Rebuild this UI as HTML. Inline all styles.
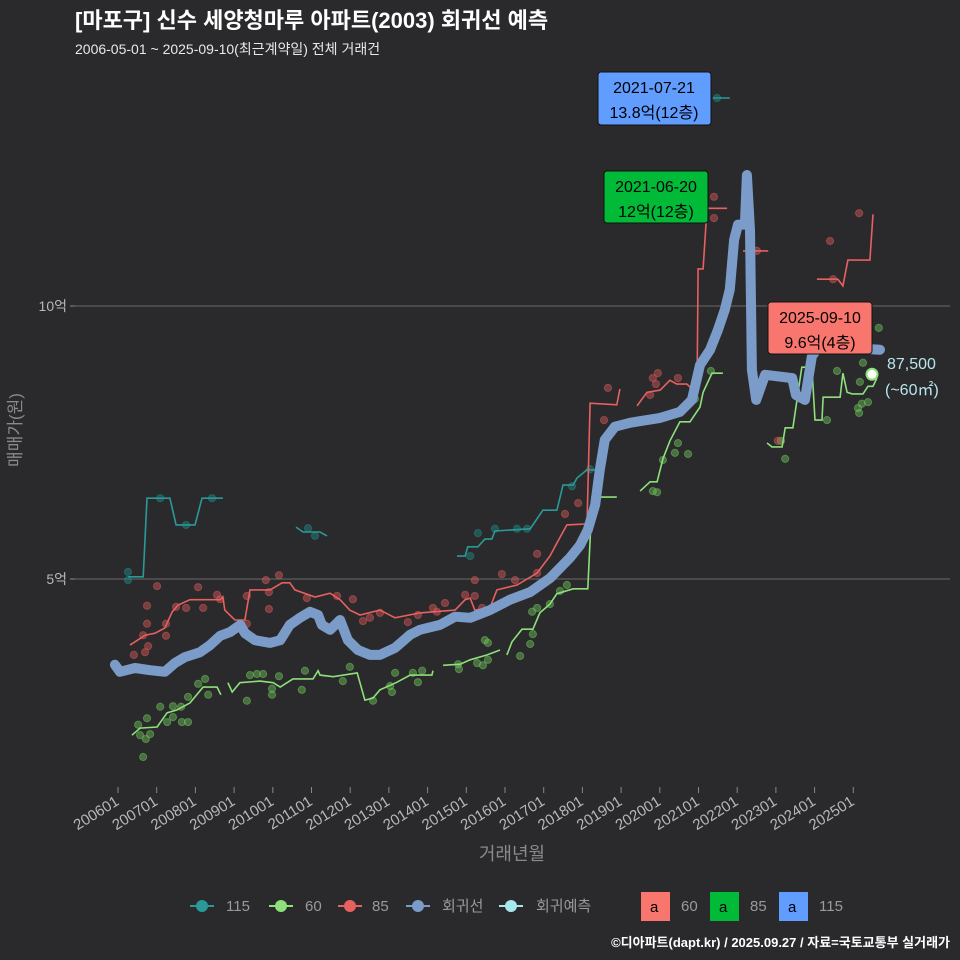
<!DOCTYPE html>
<html><head><meta charset="utf-8"><style>
html,body{margin:0;padding:0;background:#2a2a2c;overflow:hidden;}
svg{display:block;font-family:"Liberation Sans","Noto Sans CJK KR",sans-serif;}
</style></head><body>
<svg id="chart" width="960" height="960" viewBox="0 0 960 960">
<rect width="960" height="960" fill="#2a2a2c"/>
<text x="75" y="28" fill="#ffffff" font-size="22" font-weight="bold">[마포구] 신수 세양청마루 아파트(2003) 회귀선 예측</text>
<text x="75" y="54" fill="#e8e8e8" font-size="14">2006-05-01 ~ 2025-09-10(최근계약일) 전체 거래건</text>
<g id="grid"></g>
<g id="yticks"></g>
<g id="xticks"></g>
<g id="dots"></g>
<g id="lines"></g>
<g id="reg"></g>
<g id="ann"></g>
<text transform="translate(21,430) rotate(-90)" text-anchor="middle" fill="#8a8a8a" font-size="17">매매가(원)</text>
<text x="512" y="860" text-anchor="middle" fill="#8a8a8a" font-size="18">거래년월</text>
<g font-size="15" fill="#9a9a9a">
 <g><line x1="190" y1="906" x2="214" y2="906" stroke="#2a9a98" stroke-width="2"/><circle cx="202" cy="906" r="6" fill="#2a9a98"/><text x="226" y="911">115</text></g>
 <g><line x1="269" y1="906" x2="293" y2="906" stroke="#8de07a" stroke-width="2"/><circle cx="281" cy="906" r="6" fill="#8de07a"/><text x="305" y="911">60</text></g>
 <g><line x1="338" y1="906" x2="362" y2="906" stroke="#e8605f" stroke-width="2"/><circle cx="350" cy="906" r="6" fill="#e8605f"/><text x="372" y="911">85</text></g>
 <g><line x1="406" y1="906" x2="430" y2="906" stroke="#7b9cc9" stroke-width="2"/><circle cx="418" cy="906" r="6" fill="#7b9cc9"/><text x="442" y="911">회귀선</text></g>
 <g><line x1="499" y1="906" x2="523" y2="906" stroke="#a8e8ec" stroke-width="2"/><circle cx="511" cy="906" r="6" fill="#a8e8ec"/><text x="536" y="911">회귀예측</text></g>
 <g><rect x="641" y="892" width="29" height="29" fill="#f8766d"/><text x="650" y="912" fill="#000">a</text><text x="681" y="911">60</text></g>
 <g><rect x="710" y="892" width="29" height="29" fill="#00ba38"/><text x="719" y="912" fill="#000">a</text><text x="750" y="911">85</text></g>
 <g><rect x="779" y="892" width="29" height="29" fill="#619cff"/><text x="788" y="912" fill="#000">a</text><text x="819" y="911">115</text></g>
</g>
<text x="950" y="947" text-anchor="end" fill="#ffffff" font-size="13" font-weight="bold">©디아파트(dapt.kr) / 2025.09.27 / 자료=국토교통부 실거래가</text>
<g>
 <g><rect x="598" y="72" width="113" height="53" rx="3" fill="#619cff" stroke="#111" stroke-width="1"/><text x="654" y="93" text-anchor="middle" font-size="16" fill="#000">2021-07-21</text><text x="654" y="118" text-anchor="middle" font-size="16" fill="#000">13.8억(12층)</text></g>
 <g><rect x="604" y="171" width="104" height="52" rx="3" fill="#00ba38" stroke="#111" stroke-width="1"/><text x="656" y="192" text-anchor="middle" font-size="16" fill="#000">2021-06-20</text><text x="656" y="217" text-anchor="middle" font-size="16" fill="#000">12억(12층)</text></g>
 <g><rect x="768" y="302" width="104" height="52" rx="3" fill="#f8766d" stroke="#111" stroke-width="1"/><text x="820" y="323" text-anchor="middle" font-size="16" fill="#000">2025-09-10</text><text x="820" y="348" text-anchor="middle" font-size="16" fill="#000">9.6억(4층)</text></g>
 <text x="887" y="369" font-size="16" fill="#b5e6ee">87,500</text>
 <text x="885" y="395" font-size="16" fill="#b5e6ee">(~60㎡)</text>
</g>
</svg>
<script>
// ---- data (year decimal, price in 억) ----
const xTickLabels = ["200601","200701","200801","200901","201001","201101","201201","201301","201401","201501","201601","201701","201801","201901","202001","202101","202201","202301","202401","202501"];
const yTickValues = [5, 10];
const yTickLabels = ["5억", "10억"];

const regT = [2005.92,2006.05,2006.44,2006.83,2007.21,2007.47,2007.73,2008.12,2008.38,2008.64,2008.90,2009.16,2009.28,2009.54,2009.93,2010.19,2010.44,2010.70,2010.96,2011.17,2011.27,2011.48,2011.74,2011.94,2012.20,2012.51,2012.77,2013.16,2013.55,2013.80,2014.32,2014.71,2015.10,2015.61,2016.13,2016.65,2017.17,2017.68,2017.94,2018.14,2018.33,2018.45,2018.58,2018.84,2019.23,2020.01,2020.52,2020.83,2021.04,2021.30,2021.50,2021.68,2021.81,2021.92,2022.02,2022.20,2022.25,2022.33,2022.38,2022.49,2022.72,2023.42,2023.52,2023.75,2023.93,2024.14,2024.53,2024.91,2025.69];
const regV = [3.43,3.30,3.37,3.33,3.30,3.46,3.57,3.66,3.79,3.96,4.03,4.16,4.01,3.88,3.83,3.88,4.16,4.29,4.40,4.34,4.16,4.07,4.25,3.88,3.70,3.61,3.61,3.74,3.98,4.07,4.16,4.31,4.29,4.43,4.62,4.76,5.02,5.39,5.62,5.90,6.36,7.00,7.55,7.79,7.86,7.95,8.06,8.28,8.92,9.20,9.56,9.93,10.30,11.21,11.49,11.49,12.40,11.39,8.83,8.28,8.74,8.68,8.37,8.28,9.08,9.29,9.56,9.23,9.20];

const s85T = [[2006.31,2006.70,2006.96,2007.21,2007.40,2007.55,2007.86,2008.25,2008.64,2008.71,2008.76,2009.02,2009.28,2009.41,2009.93,2010.24,2010.44,2010.57,2011.09,2011.48,2011.74,2011.99,2012.25,2012.77,2013.16,2013.80,2014.71,2014.97,2015.10,2015.22,2015.61,2015.79,2016.31,2016.83,2017.16,2017.34,2017.60,2018.12,2018.20,2018.89,2018.97],[2019.41,2019.67,2020.01,2020.26,2020.44,2020.70,2020.96,2020.99,2021.12,2021.22,2021.74],[2022.15,2022.80],[2024.06,2024.60,2024.73,2024.86,2025.43,2025.51]];
const s85V = [[3.79,3.97,4.01,4.10,4.40,4.52,4.62,4.62,4.62,4.67,4.43,4.25,4.25,4.80,4.80,4.93,4.93,4.80,4.67,4.74,4.62,4.43,4.34,4.43,4.29,4.38,4.43,4.62,4.65,4.43,4.47,4.80,4.89,5.11,5.42,5.66,5.99,6.01,8.22,8.19,8.48],[8.17,8.42,8.46,8.64,8.57,8.57,8.39,10.68,10.68,11.79,11.79],[11.01,11.01],[10.49,10.49,10.37,10.84,10.84,11.68]];

const s60T = [[2006.36,2006.57,2007.01,2007.27,2007.52,2007.86,2008.20,2008.56,2008.66],[2008.84,2008.95,2009.15,2009.67,2010.01,2010.19,2010.52,2011.04,2011.17,2011.22,2011.56,2012.18,2012.38,2012.59,2012.77,2013.21,2013.55,2014.11,2014.14],[2014.40,2014.84,2015.10,2015.54,2015.87],[2016.05,2016.18,2016.44,2016.72,2016.90,2017.16,2017.34,2017.76,2018.14,2018.25,2018.89],[2019.49,2019.75,2019.93,2020.08,2020.26,2020.52,2020.78,2021.04,2021.12,2021.35,2021.63],[2022.77,2022.90,2023.16,2023.24,2023.44,2023.67,2023.93,2024.01,2024.19,2024.22,2024.66,2024.73,2024.84,2024.97,2025.25,2025.38,2025.51,2025.61]];
const s60V = [[2.14,2.27,2.29,2.55,2.60,2.73,3.02,3.02,2.88],[3.10,2.93,3.10,3.13,3.10,3.02,3.17,3.17,3.32,3.24,3.21,3.28,2.78,2.82,2.97,3.11,3.24,3.24,3.32],[3.42,3.44,3.52,3.61,3.70],[3.61,3.85,4.08,4.08,4.38,4.54,4.73,4.82,4.82,6.50,6.50],[6.61,6.78,6.78,7.20,7.53,7.88,7.88,8.15,8.42,8.77,8.77],[7.49,7.42,7.42,7.77,7.77,8.88,8.88,7.91,7.91,8.33,8.33,8.77,8.42,8.39,8.39,8.53,8.53,8.68]];

const s115T = [[2006.26,2006.65,2006.75,2007.34,2007.50,2007.99,2008.17,2008.71],[2010.60,2010.78,2011.22,2011.40],[2014.76,2014.97,2015.04,2015.30,2015.48,2015.66,2015.74,2016.65,2016.98,2017.34,2017.50,2017.76,2017.86,2018.12,2018.45],[2021.37,2021.81]];
const s115V = [[5.04,5.04,6.48,6.48,5.99,5.99,6.48,6.48],[5.95,5.86,5.86,5.79],[5.42,5.42,5.59,5.59,5.73,5.73,5.88,5.92,6.26,6.26,6.72,6.72,6.85,7.00,7.00],[13.81,13.81]];

const d85T = [2006.41,2006.65,2006.75,2006.75,2007.01,2007.24,2007.24,2006.70,2006.78,2007.50,2007.76,2008.07,2008.20,2008.56,2008.64,2009.33,2009.33,2009.82,2009.90,2009.90,2010.16,2010.88,2011.66,2012.07,2012.33,2012.51,2012.77,2013.49,2013.75,2014.14,2014.24,2014.45,2014.97,2015.22,2015.22,2015.41,2015.92,2016.26,2016.83,2016.83,2017.55,2017.89,2018.56,2018.66,2019.82,2019.95,2019.90,2019.75,2020.47,2021.40,2021.40,2022.51,2023.05,2024.40,2024.48,2025.15];
const d85V = [3.61,3.97,4.51,4.18,4.87,4.18,3.96,3.66,3.77,4.49,4.47,4.85,4.47,4.71,4.63,4.69,4.18,4.98,4.45,4.76,5.07,4.65,4.69,4.63,4.23,4.29,4.38,4.21,4.34,4.47,4.40,4.56,4.71,4.98,4.69,4.47,5.09,4.98,5.46,5.11,6.19,6.39,7.91,8.50,8.68,8.77,8.57,8.37,8.68,12.00,11.61,11.01,7.53,11.19,10.49,11.70];

const d60T = [2006.65,2006.57,2006.52,2006.75,2006.83,2006.72,2007.09,2007.27,2007.42,2007.42,2007.63,2007.65,2007.81,2007.81,2008.07,2008.25,2008.33,2009.33,2009.41,2009.59,2009.75,2009.98,2009.98,2010.16,2010.75,2010.83,2011.81,2011.99,2012.59,2013.03,2013.08,2013.16,2013.62,2013.75,2013.86,2014.79,2014.81,2015.28,2015.43,2015.56,2015.56,2015.48,2016.70,2016.83,2016.72,2017.16,2017.42,2017.60,2016.39,2016.65,2019.82,2019.93,2020.08,2020.39,2020.47,2020.73,2020.91,2021.32,2023.24,2023.13,2024.32,2024.58,2025.17,2025.25,2025.66,2025.12,2025.22,2025.38,2025.15];
const d60V = [1.74,2.14,2.33,2.45,2.16,2.07,2.66,2.38,2.67,2.47,2.66,2.38,2.84,2.38,3.08,3.17,2.88,2.77,3.24,3.26,3.26,2.88,2.99,3.22,2.97,3.32,3.13,3.39,2.77,3.04,2.93,3.28,3.28,3.11,3.32,3.44,3.35,3.46,3.42,3.52,3.83,3.88,4.40,4.47,3.99,4.54,4.78,4.89,3.59,3.81,6.61,6.59,7.18,7.31,7.49,7.29,8.30,8.81,7.20,7.53,7.91,8.81,8.61,8.96,9.60,8.13,8.21,8.24,8.04];

const d115T = [2006.26,2006.26,2007.09,2007.76,2008.43,2010.91,2011.09,2015.10,2015.30,2015.74,2016.31,2016.57,2017.73,2018.20,2021.48];
const d115V = [4.98,5.13,6.48,5.99,6.48,5.93,5.79,5.42,5.84,5.92,5.92,5.92,6.70,7.01,13.81];

const forecastT = 2025.69;
const forecastV = 8.75;

// ---- scales ----
const X = t => 118 + (t - 2006) * 38.7;
const Y = v => 852 - v * 54.6;
const NS = "http://www.w3.org/2000/svg";
function mk(tag, parent, attrs){ const e=document.createElementNS(NS,tag); for(const k in attrs) e.setAttribute(k,attrs[k]); parent.appendChild(e); return e; }

const grid=document.getElementById('grid'), yt=document.getElementById('yticks'), xt=document.getElementById('xticks');
yTickValues.forEach((v,i)=>{
  const l=mk('line',grid,{x1:75,x2:950,y1:Y(v),y2:Y(v),stroke:'#6a6a6a','stroke-width':1});
  
  
  const tk=mk('line',yt,{x1:70,x2:75,y1:Y(v),y2:Y(v),stroke:'#888'});
  
  
  const t=mk('text',yt,{x:67,y:Y(v)+5,'text-anchor':'end',fill:'#b8b8b8','font-size':14});
  t.textContent=yTickLabels[i];
  
  
});
xTickLabels.forEach(lab=>{
  const yr=+lab.slice(0,4)+(+lab.slice(4)-1)/12;
  const x=X(yr);
  const tk=mk('line',xt,{x1:x,x2:x,y1:787,y2:793,stroke:'#888'});
  
  
  const t=mk('text',xt,{x:x+2,y:804,'text-anchor':'end',fill:'#b8b8b8','font-size':15,transform:`rotate(-32 ${x+2} 804)`});
  t.textContent=lab;
  
  
});

const dots=document.getElementById('dots');
function drawDots(T,V,color,name){
  T.forEach((t,i)=>{
    const c=mk('circle',dots,{cx:X(t),cy:Y(V[i]),r:3.6,fill:color,'fill-opacity':0.45,stroke:color,'stroke-opacity':0.5});
    
    
  });
}
drawDots(d60T,d60V,'#6fc45c','point-60');
drawDots(d85T,d85V,'#d8585a','point-85');
drawDots(d115T,d115V,'#1f8a86','point-115');

const lines=document.getElementById('lines');
function drawSeries(TT,VV,color,name){
  TT.forEach((T,s)=>{
    const d=T.map((t,i)=>(i?'L':'M')+X(t).toFixed(1)+','+Y(VV[s][i]).toFixed(1)).join('');
    const p=mk('path',lines,{d:d,fill:'none',stroke:color,'stroke-width':1.6});
    
    
  });
}
drawSeries(s115T,s115V,'#2a9a98','line-115');
drawSeries(s60T,s60V,'#8de07a','line-60');
drawSeries(s85T,s85V,'#e8605f','line-85');

const reg=document.getElementById('reg');
const rp=mk('path',reg,{d:regT.map((t,i)=>(i?'L':'M')+X(t).toFixed(1)+','+Y(regV[i]).toFixed(1)).join(''),fill:'none',stroke:'#7b9cc9','stroke-width':10,'stroke-linejoin':'round','stroke-linecap':'round'});



const ann=document.getElementById('ann');
const fc=mk('circle',ann,{cx:X(forecastT)-8,cy:Y(forecastV),r:5.5,fill:'#ffffff',stroke:'#8de07a','stroke-width':2});


</script>
</body></html>
